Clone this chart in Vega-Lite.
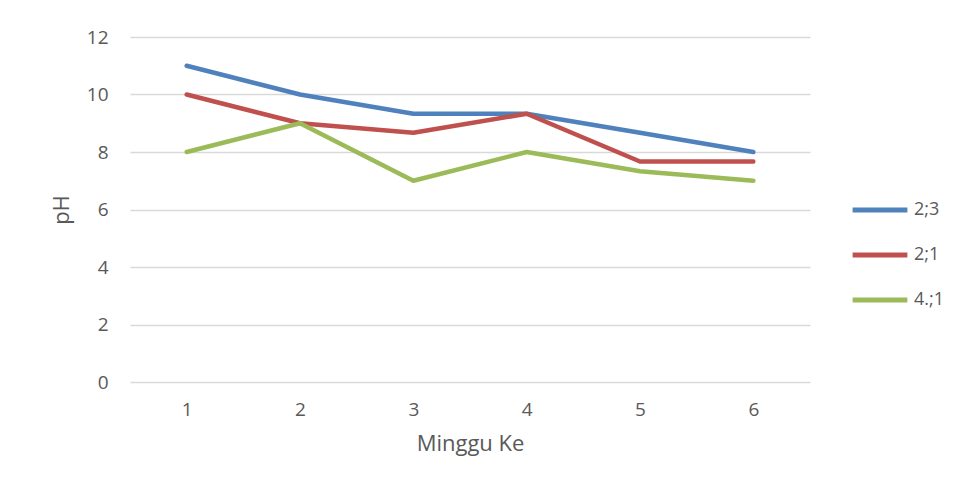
{
  "$schema": "https://vega.github.io/schema/vega-lite/v6.json",
  "width": 680,
  "height": 345,
  "autosize": {"type": "none"},
  "padding": {"left": 130, "top": 37, "right": 150, "bottom": 113},
  "background": "white",
  "config": {
    "view": {"stroke": null},
    "font": "Open Sans",
    "axis": {"labelColor": "#595959", "titleColor": "#595959", "labelFont": "Open Sans", "titleFont": "Open Sans"},
    "legend": {"labelFont": "Open Sans"}
  },
  "data": {
    "values": [
      {"minggu": "1", "seri": "2;3", "ph": 11},
      {"minggu": "2", "seri": "2;3", "ph": 10},
      {"minggu": "3", "seri": "2;3", "ph": 9.33},
      {"minggu": "4", "seri": "2;3", "ph": 9.33},
      {"minggu": "5", "seri": "2;3", "ph": 8.67},
      {"minggu": "6", "seri": "2;3", "ph": 8},
      {"minggu": "1", "seri": "2;1", "ph": 10},
      {"minggu": "2", "seri": "2;1", "ph": 9},
      {"minggu": "3", "seri": "2;1", "ph": 8.67},
      {"minggu": "4", "seri": "2;1", "ph": 9.33},
      {"minggu": "5", "seri": "2;1", "ph": 7.67},
      {"minggu": "6", "seri": "2;1", "ph": 7.67},
      {"minggu": "1", "seri": "4.;1", "ph": 8},
      {"minggu": "2", "seri": "4.;1", "ph": 9},
      {"minggu": "3", "seri": "4.;1", "ph": 7},
      {"minggu": "4", "seri": "4.;1", "ph": 8},
      {"minggu": "5", "seri": "4.;1", "ph": 7.33},
      {"minggu": "6", "seri": "4.;1", "ph": 7}
    ]
  },
  "mark": {"type": "line", "strokeWidth": 4.5, "strokeCap": "round", "strokeJoin": "round"},
  "encoding": {
    "x": {
      "field": "minggu", "type": "ordinal", "title": "Minggu Ke",
      "scale": {"type": "point", "padding": 0.5},
      "axis": {"labelAngle": 0, "domain": false, "ticks": false, "grid": false, "labelFontSize": 19, "labelPadding": 18, "titleFontSize": 22, "titleFontWeight": "normal", "titlePadding": 14}
    },
    "y": {
      "field": "ph", "type": "quantitative", "title": "pH",
      "scale": {"domain": [0, 12], "nice": false},
      "axis": {"values": [0, 2, 4, 6, 8, 10, 12], "domain": false, "ticks": false, "gridColor": "#d9d9d9", "gridWidth": 1.5, "labelFontSize": 19, "labelPadding": 22, "titleFontSize": 22, "titleFontWeight": "normal", "titlePadding": 13}
    },
    "color": {
      "field": "seri", "type": "nominal", "title": null,
      "scale": {"domain": ["2;3", "2;1", "4.;1"], "range": ["#4f81bd", "#c0504d", "#9bbb59"]},
      "legend": {"orient": "none", "legendX": 720, "legendY": 143, "symbolType": "stroke", "symbolSize": 3000, "symbolStrokeWidth": 5, "labelFontSize": 18, "labelColor": "#595959", "rowPadding": 5, "labelOffset": 4}
    }
  }
}
